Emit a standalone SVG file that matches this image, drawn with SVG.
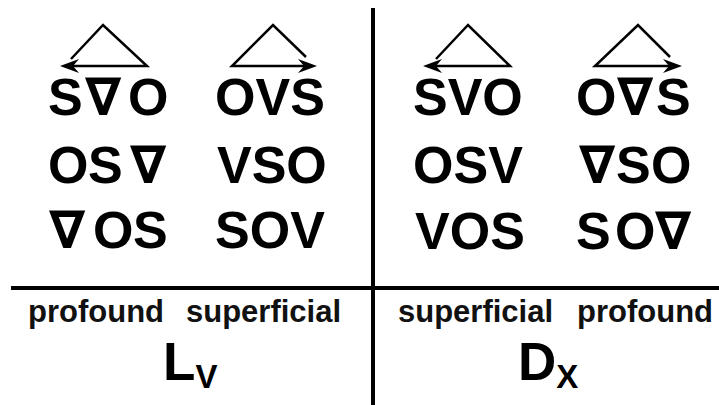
<svg xmlns="http://www.w3.org/2000/svg" width="719" height="405" viewBox="0 0 719 405">
<style>
.w{font-family:"Liberation Sans","Arial",sans-serif;font-weight:bold;font-size:52px;fill:#000}
.n{font-family:"DejaVu Sans",sans-serif;font-weight:bold;font-size:52px}
.lab{font-family:"Liberation Sans","Arial",sans-serif;font-weight:bold;font-size:31px;fill:#111}
.big{font-family:"Liberation Sans","Arial",sans-serif;font-weight:bold;font-size:53px;fill:#000}
.sub{font-size:33px}
.tri{fill:none;stroke:#000;stroke-width:2.5;stroke-linejoin:miter}
.rule{stroke:#000;stroke-width:4}
</style>
<defs>
<marker id="ah" viewBox="-20 -8 21 16" refX="-7" refY="0" markerWidth="21" markerHeight="16" markerUnits="userSpaceOnUse" orient="auto">
<path d="M0,0 L-19,-7 L-13,0 L-19,7 Z" fill="#000"/>
</marker>
</defs>
<g id="rules">
<line class="rule" x1="373" y1="8" x2="373" y2="405"/>
<line class="rule" x1="11" y1="288" x2="719" y2="288"/>
</g>
<g id="connectors">
<path class="tri" d="M71,59 L103,25 L147,66 L67,66" marker-end="url(#ah)"/>
<path class="tri" d="M306,57 L273,25 L232,66 L310,66" marker-end="url(#ah)"/>
<path class="tri" d="M436,59 L468,25 L510,66 L430,66" marker-end="url(#ah)"/>
<path class="tri" d="M670,57 L638,25 L595,66 L675,66" marker-end="url(#ah)"/>
</g>
<g id="col1">
<text class="w" y="115"><tspan x="48">S</tspan><tspan class="n" x="85">∇</tspan><tspan x="128">O</tspan></text>
<text class="w" y="183"><tspan x="48">O</tspan><tspan x="88">S</tspan><tspan class="n" x="130">∇</tspan></text>
<text class="w" y="248"><tspan class="n" x="49">∇</tspan><tspan x="93">O</tspan><tspan x="133">S</tspan></text>
</g>
<g id="col2">
<text class="w" x="215" y="115">OVS</text>
<text class="w" x="217" y="183">VSO</text>
<text class="w" x="215" y="248">SOV</text>
</g>
<g id="col3">
<text class="w" x="413" y="115">SVO</text>
<text class="w" x="413" y="183">OSV</text>
<text class="w" x="415" y="249">VOS</text>
</g>
<g id="col4">
<text class="w" y="115"><tspan x="576">O</tspan><tspan class="n" x="617">∇</tspan><tspan x="656">S</tspan></text>
<text class="w" y="183"><tspan class="n" x="579">∇</tspan><tspan x="616">S</tspan><tspan x="651">O</tspan></text>
<text class="w" y="249"><tspan x="576">S</tspan><tspan x="615">O</tspan><tspan class="n" x="655">∇</tspan></text>
</g>
<g id="label-left">
<text class="lab" y="322"><tspan x="28">profound</tspan><tspan x="186">superficial</tspan></text>
<text class="big" x="163" y="380">L<tspan class="sub" dy="8">V</tspan></text>
</g>
<g id="label-right">
<text class="lab" y="322"><tspan x="398">superficial</tspan><tspan x="577">profound</tspan></text>
<text class="big" x="518" y="380">D<tspan class="sub" dy="8">X</tspan></text>
</g>
</svg>
